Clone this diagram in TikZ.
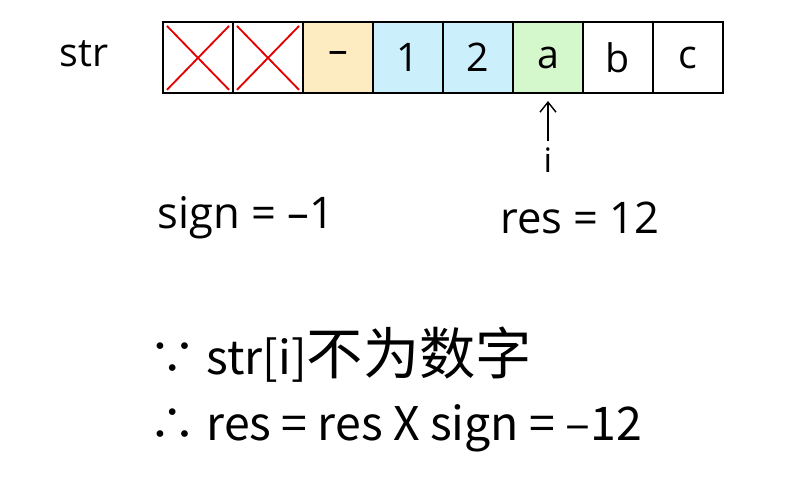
\documentclass[tikz,border=0pt]{standalone}
\usepackage{fontspec}
\setmainfont{Open Sans}
\newfontfamily\cjk{Noto Sans CJK SC}
\usetikzlibrary{arrows.meta}

\definecolor{signfill}{HTML}{FDEBC2}
\definecolor{digitfill}{HTML}{CCEFFC}
\definecolor{curfill}{HTML}{D4F7CC}

\begin{document}
\begin{tikzpicture}[
    font=\fontsize{28}{32}\selectfont,
    cell/.style={draw=black, line width=1.2pt, minimum width=1.75cm,
                 minimum height=1.775cm, inner sep=0pt},
    cross/.style={draw=red!90!black, line width=1.3pt},
    pointer/.style={-{Straight Barb[length=2.5mm,width=4mm]}, line width=1pt},
    bigtext/.style={font=\fontsize{31}{34}\selectfont, inner sep=1pt},
    proof/.style={font=\cjk\fontsize{33}{36}\selectfont, anchor=west, inner sep=1pt}
]
    \useasboundingbox (0,0) rectangle (19.65,11.95);

    % the string cells
    \foreach \k/\ch/\col in {1//white, 2//white, 3/–/signfill, 4/1/digitfill,
                             5/2/digitfill, 6/a/curfill, 7/b/white, 8/c/white}
        \node[cell, fill=\col] (c\k) at (4.075+1.75*\k-0.875,10.5125) {\ch};

    \foreach \k in {1,2} {
        \draw[cross] ([shift={(0.12,0.1)}]c\k.south west) -- ([shift={(-0.12,-0.12)}]c\k.north east);
        \draw[cross] ([shift={(0.12,-0.12)}]c\k.north west) -- ([shift={(-0.12,0.1)}]c\k.south east);
    }

    \node (strlabel) at (2.1,10.6) {str};

    % current index
    \node[font=\fontsize{24}{28}\selectfont] (ivar) at (13.7,7.95) {i};
    \draw[pointer] (ivar.north) ++(0,0.05) coordinate (ptail) (ptail) -- ([yshift=-0.18cm]c6.south);

    \node[bigtext] (sign) at (6.15,6.5) {sign = –1};
    \node[bigtext] (res) at (14.5,6.5) {res = 12};

    \node[proof] (because) at (3.7,3.075) {∵ str[i]{\fontsize{40}{44}\selectfont 不为数字}};
    \node[proof] (therefore) at (3.7,1.25) {∴ res = res X sign = –12};

\end{tikzpicture}
\end{document}
